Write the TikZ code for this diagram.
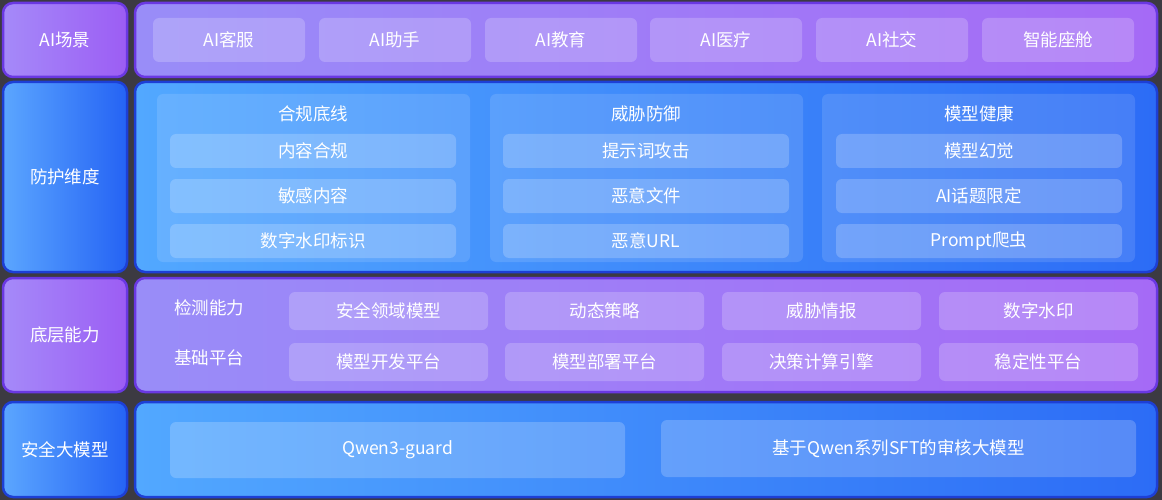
\documentclass[tikz,border=0pt]{standalone}
\usepackage{fontspec}
\setmainfont{Noto Sans CJK SC}
\definecolor{bg}{HTML}{3C3A42}
\definecolor{pborder}{HTML}{6A38E2}
\definecolor{bborder}{HTML}{1D3FD6}
\definecolor{phL}{HTML}{A58AF9}
\definecolor{phR}{HTML}{9C5DF4}
\definecolor{bhL}{HTML}{5BA6FF}
\definecolor{bhR}{HTML}{2563F4}
\definecolor{ppL}{HTML}{998DF8}
\definecolor{ppR}{HTML}{A56AF6}
\definecolor{bpL}{HTML}{52A8FF}
\definecolor{bpR}{HTML}{2C6CF6}
\tikzset{
  every node/.style={font=\fontsize{17.5}{19}\selectfont, text=white, inner sep=0pt},
  outer/.style={rounded corners=10pt, line width=2.5pt, minimum width=#1},
  purplehead/.style={outer=124, draw=pborder, left color=phL, right color=phR},
  bluehead/.style={outer=124, draw=bborder, left color=bhL, right color=bhR},
  purplepanel/.style={outer=1022, draw=pborder, left color=ppL, right color=ppR},
  bluepanel/.style={outer=1022, draw=bborder, left color=bpL, right color=bpR},
  group/.style={rounded corners=6pt, fill=white, fill opacity=0.12, text opacity=1, minimum width=313, minimum height=168},
  item/.style={rounded corners=6pt, fill=white, fill opacity=0.2, text opacity=1},
  sceneitem/.style={item, minimum width=152, minimum height=44},
  dimitem/.style={item, minimum width=286, minimum height=34},
  capitem/.style={item, minimum width=199, minimum height=38},
}
\begin{document}
\begin{tikzpicture}[x=1pt, y=-1pt]
\fill[bg] (0,0) rectangle (1162,500);
\useasboundingbox (0,0) rectangle (1162,500);

% Row 1: AI scenes
\node[purplehead, minimum height=74] (h1) at (65,40) {AI场景};
\node[purplepanel, minimum height=74] (p1) at (646,40) {};
\node[sceneitem] (s1) at (229,40) {AI客服};
\node[sceneitem] (s2) at (395,40) {AI助手};
\node[sceneitem] (s3) at (561,40) {AI教育};
\node[sceneitem] (s4) at (726,40) {AI医疗};
\node[sceneitem] (s5) at (892,40) {AI社交};
\node[sceneitem] (s6) at (1058,40) {智能座舱};

% Row 2: protection dimensions
\node[bluehead, minimum height=190] (h2) at (65,177) {防护维度};
\node[bluepanel, minimum height=190] (p2) at (646,177) {};
\node[group] (g1) at (313.5,178) {};
\node[group] (g2) at (646.5,178) {};
\node[group] (g3) at (978.5,178) {};
\node (g1t) at (313,114) {合规底线};
\node (g2t) at (646,114) {威胁防御};
\node (g3t) at (979,114) {模型健康};
\node[dimitem] (d11) at (313,151) {内容合规};
\node[dimitem] (d12) at (313,196) {敏感内容};
\node[dimitem] (d13) at (313,241) {数字水印标识};
\node[dimitem] (d21) at (646,151) {提示词攻击};
\node[dimitem] (d22) at (646,196) {恶意文件};
\node[dimitem] (d23) at (646,241) {恶意URL};
\node[dimitem] (d31) at (979,151) {模型幻觉};
\node[dimitem] (d32) at (979,196) {AI话题限定};
\node[dimitem] (d33) at (979,241) {Prompt爬虫};

% Row 3: base capabilities
\node[purplehead, minimum height=114] (h3) at (65,335) {底层能力};
\node[purplepanel, minimum height=114] (p3) at (646,335) {};
\node (l1) at (209,308) {检测能力};
\node (l2) at (209,358) {基础平台};
\node[capitem] (c11) at (388.5,311) {安全领域模型};
\node[capitem] (c12) at (604.5,311) {动态策略};
\node[capitem] (c13) at (821.5,311) {威胁情报};
\node[capitem] (c14) at (1038.5,311) {数字水印};
\node[capitem] (c21) at (388.5,362) {模型开发平台};
\node[capitem] (c22) at (604.5,362) {模型部署平台};
\node[capitem] (c23) at (821.5,362) {决策计算引擎};
\node[capitem] (c24) at (1038.5,362) {稳定性平台};

% Row 4: safety models
\node[bluehead, minimum height=95] (h4) at (65,449.5) {安全大模型};
\node[bluepanel, minimum height=95] (p4) at (646,449.5) {};
\node[item, minimum width=455, minimum height=56] (m1) at (397.5,450) {Qwen3-guard};
\node[item, minimum width=475, minimum height=57] (m2) at (898.5,448.5) {基于Qwen系列SFT的审核大模型};
\end{tikzpicture}
\end{document}
